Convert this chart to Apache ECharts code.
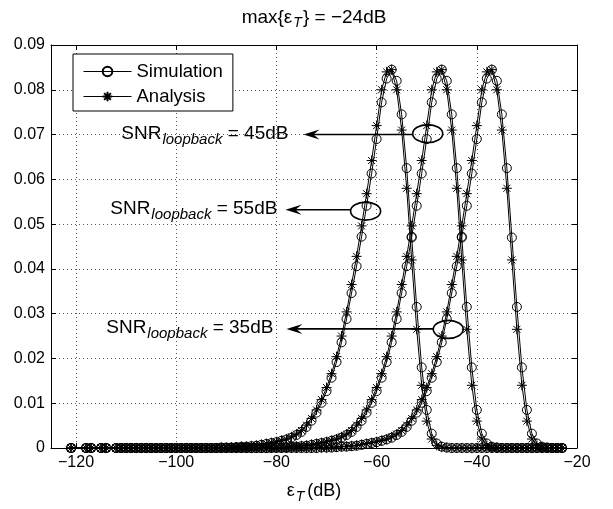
<!DOCTYPE html>
<html>
<head>
<meta charset="utf-8">
<title>max{ε_T} = −24dB</title>
<script src="https://cdn.jsdelivr.net/npm/echarts@6/dist/echarts.min.js"></script>
<style>
  html, body { margin: 0; padding: 0; background: #fff; }
  #main { width: 613px; height: 509px; }
</style>
</head>
<body>
<div id="main"></div>
<script>
// sample points of eps_T in dB (shared by all curves)
const epsDb = [-121, -118, -117, -115, -114,
  -112, -111, -110, -109, -108, -107, -106, -105, -104, -103,
  -102, -101, -100, -99, -98, -97, -96, -95, -94, -93,
  -92, -91, -90, -89, -88, -87, -86, -85, -84, -83,
  -82, -81, -80, -79, -78, -77, -76, -75, -74, -73,
  -72, -71, -70, -69, -68, -67, -66, -65, -64, -63,
  -62, -61, -60, -59, -58, -57, -56, -55, -54, -53,
  -52, -51, -50, -49, -48, -47, -46, -45, -44, -43,
  -42, -41, -40, -39, -38, -37, -36, -35, -34, -33,
  -32, -31, -30, -29, -28, -27, -26, -25, -24, -23];

// SNR_loopback = 35dB
const sim35 = [0, 0, 0, 0, 0,
  0, 0, 0, 0, 0, 0, 0, 0, 0, 0,
  0, 0, 0, 0, 0, 0, 0, 0, 0, 0,
  0, 0, 0, 0, 0, 0, 0, 0, 0, 0,
  0, 0, 0, 0, 0, 0, 0, 0, 0, 0,
  0, 0.0001, 0.0001, 0.0001, 0.0002, 0.0003, 0.0003, 0.0004, 0.0005, 0.0007,
  0.0009, 0.0011, 0.0013, 0.0016, 0.0019, 0.0023, 0.0029, 0.0036, 0.0047, 0.0061,
  0.0079, 0.0101, 0.0127, 0.0157, 0.0192, 0.0236, 0.0288, 0.0346, 0.0406, 0.0472,
  0.0541, 0.0613, 0.0690, 0.0772, 0.0825, 0.0845, 0.0820, 0.0745, 0.0625, 0.0470,
  0.0315, 0.0180, 0.0085, 0.0032, 0.0010, 0.0003, 0.0001, 0, 0, 0];
const ana35 = [0, 0, 0, 0, 0,
  0, 0, 0, 0, 0, 0, 0, 0, 0, 0,
  0, 0, 0, 0, 0, 0, 0, 0, 0, 0,
  0, 0, 0, 0, 0, 0, 0, 0, 0, 0,
  0, 0, 0, 0, 0, 0, 0, 0, 0, 0,
  0, 0.0001, 0.0001, 0.0002, 0.0002, 0.0003, 0.0004, 0.0005, 0.0006, 0.0008,
  0.0010, 0.0012, 0.0014, 0.0017, 0.0020, 0.0025, 0.0031, 0.0039, 0.0051, 0.0066,
  0.0085, 0.0108, 0.0135, 0.0166, 0.0204, 0.0250, 0.0304, 0.0365, 0.0428, 0.0496,
  0.0568, 0.0642, 0.0720, 0.0800, 0.0840, 0.0845, 0.0800, 0.0710, 0.0580, 0.0420,
  0.0265, 0.0140, 0.0060, 0.0020, 0.0006, 0.0002, 0.0001, 0, 0, 0];

// SNR_loopback = 45dB
const sim45 = [0, 0, 0, 0, 0,
  0, 0, 0, 0, 0, 0, 0, 0, 0, 0,
  0, 0, 0, 0, 0, 0, 0, 0, 0, 0,
  0, 0, 0, 0, 0, 0, 0, 0, 0, 0,
  0, 0.0001, 0.0001, 0.0001, 0.0002, 0.0003, 0.0003, 0.0004, 0.0005, 0.0007,
  0.0009, 0.0011, 0.0013, 0.0016, 0.0019, 0.0023, 0.0029, 0.0036, 0.0047, 0.0061,
  0.0079, 0.0101, 0.0127, 0.0157, 0.0192, 0.0236, 0.0288, 0.0346, 0.0406, 0.0472,
  0.0541, 0.0613, 0.0690, 0.0772, 0.0825, 0.0845, 0.0820, 0.0745, 0.0625, 0.0470,
  0.0315, 0.0180, 0.0085, 0.0032, 0.0010, 0.0003, 0.0001, 0, 0, 0,
  0, 0, 0, 0, 0, 0, 0, 0, 0, 0];
const ana45 = [0, 0, 0, 0, 0,
  0, 0, 0, 0, 0, 0, 0, 0, 0, 0,
  0, 0, 0, 0, 0, 0, 0, 0, 0, 0,
  0, 0, 0, 0, 0, 0, 0, 0, 0, 0,
  0, 0.0001, 0.0001, 0.0002, 0.0002, 0.0003, 0.0004, 0.0005, 0.0006, 0.0008,
  0.0010, 0.0012, 0.0014, 0.0017, 0.0020, 0.0025, 0.0031, 0.0039, 0.0051, 0.0066,
  0.0085, 0.0108, 0.0135, 0.0166, 0.0204, 0.0250, 0.0304, 0.0365, 0.0428, 0.0496,
  0.0568, 0.0642, 0.0720, 0.0800, 0.0840, 0.0845, 0.0800, 0.0710, 0.0580, 0.0420,
  0.0265, 0.0140, 0.0060, 0.0020, 0.0006, 0.0002, 0.0001, 0, 0, 0,
  0, 0, 0, 0, 0, 0, 0, 0, 0, 0];

// SNR_loopback = 55dB
const sim55 = [0, 0, 0, 0, 0,
  0, 0, 0, 0, 0, 0, 0, 0, 0, 0,
  0, 0, 0, 0, 0, 0, 0, 0, 0, 0,
  0, 0.0001, 0.0001, 0.0001, 0.0002, 0.0003, 0.0003, 0.0004, 0.0005, 0.0007,
  0.0009, 0.0011, 0.0013, 0.0016, 0.0019, 0.0023, 0.0029, 0.0036, 0.0047, 0.0061,
  0.0079, 0.0101, 0.0127, 0.0157, 0.0192, 0.0236, 0.0288, 0.0346, 0.0406, 0.0472,
  0.0541, 0.0613, 0.0690, 0.0772, 0.0825, 0.0845, 0.0820, 0.0745, 0.0625, 0.0470,
  0.0315, 0.0180, 0.0085, 0.0032, 0.0010, 0.0003, 0.0001, 0, 0, 0,
  0, 0, 0, 0, 0, 0, 0, 0, 0, 0,
  0, 0, 0, 0, 0, 0, 0, 0, 0, 0];
const ana55 = [0, 0, 0, 0, 0,
  0, 0, 0, 0, 0, 0, 0, 0, 0, 0,
  0, 0, 0, 0, 0, 0, 0, 0, 0, 0,
  0, 0.0001, 0.0001, 0.0002, 0.0002, 0.0003, 0.0004, 0.0005, 0.0006, 0.0008,
  0.0010, 0.0012, 0.0014, 0.0017, 0.0020, 0.0025, 0.0031, 0.0039, 0.0051, 0.0066,
  0.0085, 0.0108, 0.0135, 0.0166, 0.0204, 0.0250, 0.0304, 0.0365, 0.0428, 0.0496,
  0.0568, 0.0642, 0.0720, 0.0800, 0.0840, 0.0845, 0.0800, 0.0710, 0.0580, 0.0420,
  0.0265, 0.0140, 0.0060, 0.0020, 0.0006, 0.0002, 0.0001, 0, 0, 0,
  0, 0, 0, 0, 0, 0, 0, 0, 0, 0,
  0, 0, 0, 0, 0, 0, 0, 0, 0, 0];

const xTicks = [-120, -100, -80, -60, -40, -20];

// arrows + ellipses pointing at the curves (data coords)
const notes = [
  { snr: '45', tipX: -74.6, y: 0.0700, textEndX: -77.6, cx: -49.8, cy: 0.0702 },
  { snr: '55', tipX: -78.2, y: 0.0532, textEndX: -79.8, cx: -62.2, cy: 0.0529 },
  { snr: '35', tipX: -78.0, y: 0.0266, textEndX: -80.6, cx: -45.7, cy: 0.0265 }
];

const FONT = '"Liberation Sans", Arial, Helvetica, sans-serif';
const gridDot = { color: '#555', type: [1, 3], width: 1 };
const boxLine = { color: '#000', width: 1 };

const circleMark = {
  symbol: 'circle', symbolSize: 9,
  itemStyle: { color: 'rgba(0,0,0,0)', borderColor: '#000', borderWidth: 1 }
};
const starMark = {
  symbol: 'path://M5,0L5,10M0,5L10,5M1.5,1.5L8.5,8.5M1.5,8.5L8.5,1.5', symbolSize: 10,
  itemStyle: { color: '#000', borderColor: '#000', borderWidth: 1 }
};

function curve(name, ys, mark) {
  return Object.assign({
    name: name,
    type: 'line',
    xAxisIndex: 0,
    yAxisIndex: 0,
    data: epsDb.map((x, i) => [x, ys[i]]),
    showSymbol: true,
    showAllSymbol: true,
    clip: false,
    lineStyle: { color: '#000', width: 1 },
    emphasis: { disabled: true }
  }, mark);
}

const minus = v => (v < 0 ? '\u2212' : '') + Math.abs(v);

const chart = echarts.init(document.getElementById('main'));
chart.setOption({
  animation: false,
  backgroundColor: '#fff',
  grid: { left: 51, right: 36, top: 45, bottom: 50 },
  legend: {
    left: 73, top: 54,
    orient: 'vertical',
    selectedMode: false,
    data: ['Simulation', 'Analysis'],
    backgroundColor: '#fff',
    borderColor: '#000',
    borderWidth: 1,
    padding: [8, 10, 5, 10],
    itemWidth: 48,
    itemHeight: 12,
    itemGap: 6,
    lineStyle: { width: 1 },
    textStyle: { color: '#000', fontSize: 18.5, fontFamily: FONT }
  },
  xAxis: [
    {
      type: 'value', position: 'bottom', min: -125, max: -20,
      axisLine: { onZero: false, lineStyle: boxLine },
      axisTick: { inside: true, length: 5, customValues: xTicks, lineStyle: boxLine },
      axisLabel: { customValues: xTicks, color: '#000', fontSize: 16, fontFamily: FONT, margin: 7, formatter: minus },
      splitLine: { show: true, lineStyle: gridDot },
      name: 'ε{s|T}(dB)',
      nameLocation: 'middle',
      nameGap: 31,
      nameTextStyle: {
        color: '#000', fontSize: 18, fontFamily: FONT,
        rich: { s: { fontSize: 14, fontStyle: 'italic', fontFamily: FONT, padding: [11, 3, 0, 1] } }
      }
    },
    {
      type: 'value', position: 'top', min: -125, max: -20,
      axisLine: { onZero: false, lineStyle: boxLine },
      axisTick: { inside: true, length: 5, customValues: xTicks, lineStyle: boxLine },
      axisLabel: { show: false },
      splitLine: { show: false }
    }
  ],
  yAxis: [
    {
      type: 'value', position: 'left', min: 0, max: 0.09, interval: 0.01,
      axisLine: { show: true, onZero: false, lineStyle: boxLine },
      axisTick: { show: true, inside: true, length: 5, lineStyle: boxLine },
      axisLabel: {
        color: '#000', fontSize: 16, fontFamily: FONT, margin: 6,
        formatter: v => (v === 0 ? '0' : v.toFixed(2))
      },
      splitLine: { show: true, lineStyle: gridDot }
    },
    {
      type: 'value', position: 'right', min: 0, max: 0.09, interval: 0.01,
      axisLine: { show: true, onZero: false, lineStyle: boxLine },
      axisTick: { show: true, inside: true, length: 5, lineStyle: boxLine },
      axisLabel: { show: false },
      splitLine: { show: false }
    }
  ],
  series: [
    curve('Simulation', sim55, circleMark),
    curve('Analysis', ana55, starMark),
    curve('Simulation', sim45, circleMark),
    curve('Analysis', ana45, starMark),
    curve('Simulation', sim35, circleMark),
    curve('Analysis', ana35, starMark)
  ]
});

// annotations, placed from data coordinates
const P = (x, y) => chart.convertToPixel({ xAxisIndex: 0, yAxisIndex: 0 }, [x, y]);
const subStyle = { fontSize: 15, fontStyle: 'italic', fontFamily: FONT, padding: [12, 0, 0, 1] };
const elems = [];
notes.forEach(n => {
  const t = P(n.tipX, n.y);
  const e = P(n.cx, n.cy);
  const lx = P(n.textEndX, n.y)[0];
  elems.push({
    type: 'line', z: 100,
    shape: { x1: t[0] + 8, y1: t[1], x2: e[0] - 15, y2: t[1] },
    style: { stroke: '#000', lineWidth: 1.6 }
  });
  elems.push({
    type: 'polygon', z: 100,
    shape: { points: [[t[0], t[1]], [t[0] + 16, t[1] - 5], [t[0] + 10, t[1]], [t[0] + 16, t[1] + 5]] },
    style: { fill: '#000' }
  });
  elems.push({
    type: 'ellipse', z: 100,
    shape: { cx: e[0], cy: e[1], rx: 15, ry: 9 },
    style: { fill: 'none', stroke: '#000', lineWidth: 1.6 }
  });
  elems.push({
    type: 'text', z: 100, x: lx, y: t[1] - 1,
    style: {
      text: 'SNR{s|loopback} = ' + n.snr + 'dB',
      fill: '#000', fontSize: 19, fontFamily: FONT,
      align: 'right', verticalAlign: 'middle',
      textAlign: 'right', textVerticalAlign: 'middle',
      rich: { s: subStyle }
    }
  });
});
// title, centred over the plot area
const mid = P(-72.5, 0.09);
elems.push({
  type: 'text', x: mid[0], y: 18,
  style: {
    text: 'max{ε{s|T}} = \u221224dB',
    fill: '#000', fontSize: 19, fontFamily: FONT,
    align: 'center', verticalAlign: 'middle',
    textAlign: 'center', textVerticalAlign: 'middle',
    rich: { s: { fontSize: 14, fontStyle: 'italic', fontFamily: FONT, padding: [11, 1, 0, 1] } }
  }
});
chart.setOption({ graphic: { elements: elems } });
</script>
</body>
</html>
